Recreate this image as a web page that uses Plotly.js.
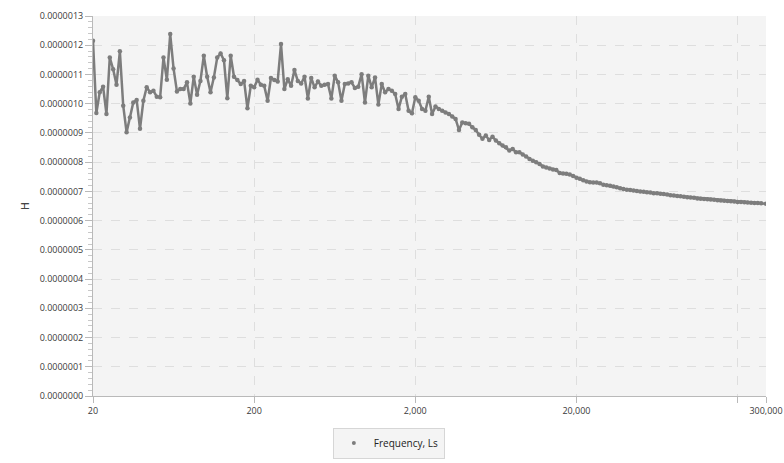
<!DOCTYPE html>
<html>
<head>
<meta charset="utf-8">
<script src="https://cdn.plot.ly/plotly-3.0.1.min.js"></script>
<style>
  html, body { margin: 0; padding: 0; background: #ffffff; }
  #chart { width: 784px; height: 463px; }
</style>
</head>
<body>
<div id="chart"></div>
<script>
// Frequency sweep (Hz), log spaced
const freqHz = [
    20, 20.98, 22.02, 23.1, 24.24, 25.42, 26.68, 27.98, 29.36, 30.8, 32.32, 33.9,
    35.56, 37.32, 39.14, 41.08, 43.08, 45.2, 47.42, 49.76, 52.2, 54.76, 57.46, 60.28,
    63.24, 66.36, 69.62, 73.04, 76.62, 80.38, 84.34, 88.48, 92.84, 97.4, 102.2, 107.2,
    112.5, 118, 123.8, 129.9, 136.3, 143, 150, 157.4, 165.1, 173.2, 181.7, 190.6,
    200, 209.8, 220.2, 231, 242.4, 254.2, 266.8, 279.8, 293.6, 308, 323.2, 339,
    355.6, 373.2, 391.4, 410.8, 430.8, 452, 474.2, 497.6, 522, 547.6, 574.6, 602.8,
    632.4, 663.6, 696.2, 730.4, 766.2, 803.8, 843.4, 884.8, 928.4, 974, 1022, 1072,
    1125, 1180, 1238, 1299, 1363, 1430, 1500, 1574, 1651, 1732, 1817, 1906,
    2000, 2098, 2202, 2310, 2424, 2542, 2668, 2798, 2936, 3080, 3232, 3390,
    3556, 3732, 3914, 4108, 4308, 4520, 4742, 4976, 5220, 5476, 5746, 6028,
    6324, 6636, 6962, 7304, 7662, 8038, 8434, 8848, 9284, 9740, 10220, 10720,
    11250, 11800, 12380, 12990, 13630, 14300, 15000, 15740, 16510, 17320, 18170, 19060,
    20000, 20980, 22020, 23100, 24240, 25420, 26680, 27980, 29360, 30800, 32320, 33900,
    35560, 37320, 39140, 41080, 43080, 45200, 47420, 49760, 52200, 54760, 57460, 60280,
    63240, 66360, 69620, 73040, 76620, 80380, 84340, 88480, 92840, 97400, 102200, 107200,
    112500, 118000, 123800, 129900, 136300, 143000, 150000, 157400, 165100, 173200, 181700, 190600,
    200000, 209800, 220200, 231000, 242400, 254200, 266800, 279800, 300000
];

// Inductance Ls (H)
const lsHenry = [
    12.15e-7, 9.68e-7, 10.39e-7, 10.58e-7, 9.65e-7, 11.58e-7, 11.18e-7, 10.65e-7, 11.79e-7, 9.93e-7,
    9.02e-7, 9.53e-7, 10.04e-7, 10.13e-7, 9.14e-7, 10.10e-7, 10.56e-7, 10.39e-7, 10.44e-7, 10.24e-7,
    10.22e-7, 11.58e-7, 10.82e-7, 12.38e-7, 11.20e-7, 10.42e-7, 10.50e-7, 10.50e-7, 10.73e-7, 10.01e-7,
    10.92e-7, 10.31e-7, 10.78e-7, 11.64e-7, 10.92e-7, 10.39e-7, 10.90e-7, 11.58e-7, 11.72e-7, 11.49e-7,
    10.19e-7, 11.64e-7, 10.92e-7, 10.81e-7, 10.67e-7, 10.78e-7, 9.84e-7, 10.61e-7, 10.56e-7, 10.82e-7,
    10.65e-7, 10.61e-7, 10.10e-7, 10.88e-7, 10.81e-7, 10.76e-7, 12.04e-7, 10.50e-7, 10.84e-7, 10.61e-7,
    11.15e-7, 10.78e-7, 10.69e-7, 10.92e-7, 10.18e-7, 10.88e-7, 10.56e-7, 10.76e-7, 10.61e-7, 10.65e-7,
    10.67e-7, 10.18e-7, 10.96e-7, 10.73e-7, 10.10e-7, 10.67e-7, 10.69e-7, 10.73e-7, 10.54e-7, 10.58e-7,
    11.01e-7, 10.04e-7, 10.96e-7, 10.56e-7, 10.90e-7, 9.97e-7, 10.67e-7, 10.39e-7, 10.50e-7, 10.44e-7,
    10.33e-7, 9.82e-7, 10.24e-7, 10.33e-7, 9.76e-7, 9.67e-7, 10.22e-7, 10.10e-7, 9.82e-7, 9.76e-7,
    10.24e-7, 9.65e-7, 9.90e-7, 9.82e-7, 9.76e-7, 9.70e-7, 9.65e-7, 9.56e-7, 9.48e-7, 9.10e-7,
    9.36e-7, 9.33e-7, 9.31e-7, 9.19e-7, 9.10e-7, 8.94e-7, 8.80e-7, 8.91e-7, 8.76e-7, 8.87e-7,
    8.74e-7, 8.65e-7, 8.57e-7, 8.51e-7, 8.40e-7, 8.45e-7, 8.34e-7, 8.34e-7, 8.26e-7, 8.19e-7,
    8.11e-7, 8.05e-7, 8.00e-7, 7.94e-7, 7.85e-7,
    7.82e-7, 7.78e-7, 7.75e-7, 7.73e-7, 7.63e-7, 7.61e-7, 7.60e-7, 7.58e-7, 7.53e-7, 7.47e-7,
    7.43e-7, 7.38e-7, 7.34e-7, 7.31e-7, 7.30e-7, 7.30e-7, 7.28e-7, 7.23e-7, 7.21e-7, 7.19e-7,
    7.17e-7, 7.14e-7, 7.11e-7, 7.08e-7, 7.06e-7, 7.05e-7, 7.03e-7, 7.01e-7, 7.00e-7, 6.99e-7,
    6.97e-7, 6.96e-7, 6.94e-7, 6.94e-7, 6.92e-7, 6.91e-7, 6.89e-7, 6.87e-7, 6.86e-7, 6.84e-7,
    6.83e-7, 6.82e-7, 6.80e-7, 6.79e-7, 6.78e-7, 6.76e-7, 6.75e-7, 6.74e-7, 6.73e-7, 6.72e-7,
    6.71e-7, 6.70e-7, 6.69e-7, 6.68e-7, 6.67e-7, 6.66e-7, 6.65e-7, 6.64e-7, 6.64e-7, 6.63e-7,
    6.62e-7, 6.61e-7, 6.60e-7, 6.60e-7, 6.59e-7, 6.58e-7
];

const xTickVals = [20, 200, 2000, 20000, 200000, 300000];
const xTickText = ['20', '200', '2,000', '20,000', '', '300,000'];
const seriesName = 'Frequency, Ls';

const lineColor = '#7d7d7d';
const gridColor = '#dedede';
const axisColor = '#b9b9b9';
const tickFont = { family: '"Open Sans", "Noto Sans", sans-serif', size: 9, color: '#3a3a3a' };

const traces = [
    {
        x: freqHz,
        y: lsHenry,
        type: 'scatter',
        mode: 'lines+markers',
        line: { color: lineColor, width: 2.5 },
        marker: { color: lineColor, size: 4.5 },
        showlegend: false,
        hoverinfo: 'x+y'
    },
    // legend entry only (dot symbol, like the original)
    {
        x: [null],
        y: [null],
        type: 'scatter',
        mode: 'markers',
        name: seriesName,
        marker: { color: lineColor, size: 4 }
    }
];

const layout = {
    width: 784,
    height: 463,
    margin: { l: 93, r: 18, t: 16, b: 67 },
    paper_bgcolor: '#ffffff',
    plot_bgcolor: '#f4f4f4',
    xaxis: {
        type: 'log',
        range: [Math.log10(20), Math.log10(300000)],
        tickvals: xTickVals,
        ticktext: xTickText,
        ticks: 'outside',
        ticklen: 6,
        tickcolor: axisColor,
        tickfont: tickFont,
        showline: true,
        linecolor: axisColor,
        linewidth: 1,
        showgrid: true,
        gridcolor: gridColor,
        griddash: 'dash',
        zeroline: false,
        fixedrange: true
    },
    yaxis: {
        range: [0, 1.3e-6],
        dtick: 1e-7,
        tick0: 0,
        tickformat: '.7f',
        ticks: 'outside',
        ticklen: 7,
        tickcolor: axisColor,
        tickfont: tickFont,
        minor: { dtick: 2e-8, ticks: 'outside', ticklen: 4, tickcolor: '#c8c8c8', showgrid: false },
        showline: true,
        linecolor: axisColor,
        linewidth: 1,
        showgrid: true,
        gridcolor: gridColor,
        griddash: 'dash',
        zeroline: false,
        title: { text: 'H', font: { family: '"Open Sans", sans-serif', size: 10, color: '#111' }, standoff: 8 },
        fixedrange: true
    },
    showlegend: true,
    legend: {
        orientation: 'h',
        xref: 'container',
        yref: 'container',
        x: 0.496,
        xanchor: 'center',
        y: 0.043,
        yanchor: 'middle',
        bgcolor: '#f4f4f4',
        bordercolor: '#d6d6d6',
        borderwidth: 1,
        itemwidth: 30,
        font: { family: '"Open Sans", "Noto Sans", sans-serif', size: 10, color: '#222' }
    }
};

Plotly.newPlot('chart', traces, layout, { displayModeBar: false, staticPlot: true });
</script>
</body>
</html>
